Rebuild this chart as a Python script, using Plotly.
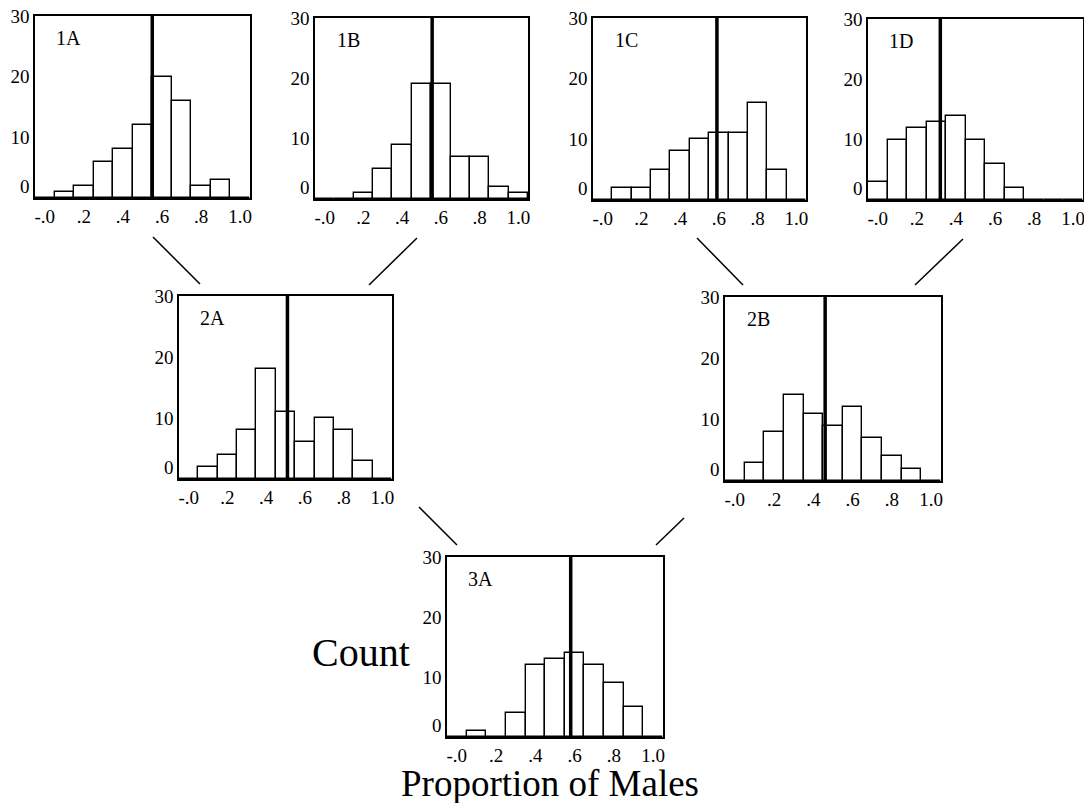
import plotly.graph_objects as go

# ---------------- data ----------------
bin_centers = [0.0, 0.1, 0.2, 0.3, 0.4, 0.5, 0.6, 0.7, 0.8, 0.9, 1.0]
panel_names = ["1A", "1B", "1C", "1D", "2A", "2B", "3A"]
counts_1A = [0, 1, 2, 6, 8, 12, 20, 16, 2, 3, 0]
counts_1B = [0, 0, 1, 5, 9, 19, 19, 7, 7, 2, 1]
counts_1C = [0, 2, 2, 5, 8, 10, 11, 11, 16, 5, 0]
counts_1D = [3, 10, 12, 13, 14, 10, 6, 2, 0, 0, 0]
counts_2A = [0, 2, 4, 8, 18, 11, 6, 10, 8, 3, 0]
counts_2B = [0, 3, 8, 14, 11, 9, 12, 7, 4, 2, 0]
counts_3A = [0, 1, 0, 4, 12, 13, 14, 12, 9, 5, 0]
mean_props = [0.55, 0.555, 0.59, 0.32, 0.51, 0.46, 0.58]
x_tick_vals = [0.0, 0.2, 0.4, 0.6, 0.8, 1.0]
x_tick_text = ["-.0", ".2", ".4", ".6", ".8", "1.0"]
y_tick_vals = [1.9, 10, 20, 30]
y_tick_text = ["0", "10", "20", "30"]
all_counts = [counts_1A, counts_1B, counts_1C, counts_1D, counts_2A, counts_2B, counts_3A]

# ---------------- layout (pixel boxes in the screenshot) ----------------
OFF = 8  # default page body margin
W, H = 1092 - OFF, 803 - OFF


def px(x):
    return (x - OFF) / W


def py(y):
    return 1 - (y - OFF) / H


boxes = [  # left, right, top, bottom in screenshot px
    (35, 250, 16, 198),
    (315, 528, 18, 199),
    (593, 806, 18, 200),
    (868, 1083, 19, 200),
    (179, 392, 296, 479),
    (725, 941, 297, 481),
    (447, 663, 557, 737),
]
connectors = [  # x0,y0,x1,y1 px
    (153, 237, 200, 284),
    (417, 238, 369, 285),
    (697, 238, 743, 285),
    (963, 239, 915, 285),
    (419, 507, 457, 545),
    (684, 518, 656, 545),
]
FONT = "Liberation Serif, Times New Roman, serif"

fig = go.Figure()
annotations = []
for i, (name, counts, m, box) in enumerate(zip(panel_names, all_counts, mean_props, boxes)):
    k = "" if i == 0 else str(i + 1)
    xa, ya = "x" + k, "y" + k
    l, r, t, b = box
    fig.add_trace(go.Bar(
        x=bin_centers, y=counts, width=0.1, xaxis=xa, yaxis=ya,
        marker=dict(color="white", line=dict(color="black", width=1.4)),
        showlegend=False, hoverinfo="x+y",
    ))
    fig.add_trace(go.Scatter(
        x=[m, m], y=[0, 30], mode="lines", xaxis=xa, yaxis=ya,
        line=dict(color="black", width=3.5), showlegend=False, hoverinfo="x",
    ))
    axis_common = dict(showline=True, mirror=True, linecolor="black", linewidth=1.5,
                       showgrid=False, zeroline=False, ticks="", automargin=False,
                       ticklabeloverflow="allow",
                       tickfont=dict(family=FONT, size=19, color="black"))
    fig.layout["xaxis" + k] = dict(
        domain=[px(l), px(r)], range=[-0.05, 1.05], anchor=ya,
        tickmode="array", tickvals=x_tick_vals, ticktext=x_tick_text, **axis_common)
    fig.layout["yaxis" + k] = dict(
        domain=[py(b), py(t)], range=[0, 30], anchor=xa,
        tickmode="array", tickvals=y_tick_vals, ticktext=y_tick_text,
        ticklabelstandoff=0, **axis_common)
    annotations.append(dict(
        text=name, xref=xa + " domain", yref=ya + " domain", x=0.155, y=0.88,
        xanchor="center", yanchor="middle", showarrow=False,
        font=dict(family=FONT, size=20, color="black")))

shapes = [dict(type="line", xref="paper", yref="paper",
               x0=px(x0), y0=py(y0), x1=px(x1), y1=py(y1),
               line=dict(color="black", width=1.5)) for x0, y0, x1, y1 in connectors]

annotations.append(dict(text="Count", xref="paper", yref="paper", x=px(361), y=py(652),
                        xanchor="center", yanchor="middle", showarrow=False,
                        font=dict(family=FONT, size=40, color="black")))
annotations.append(dict(text="Proportion of Males", xref="paper", yref="paper", x=px(550), y=py(783),
                        xanchor="center", yanchor="middle", showarrow=False,
                        font=dict(family=FONT, size=37, color="black")))

fig.update_layout(
    width=W, height=H, margin=dict(l=0, r=0, t=0, b=0, autoexpand=False),
    paper_bgcolor="white", plot_bgcolor="white",
    shapes=shapes, annotations=annotations, showlegend=False, bargap=0,
)
fig.write_html("out.html")
